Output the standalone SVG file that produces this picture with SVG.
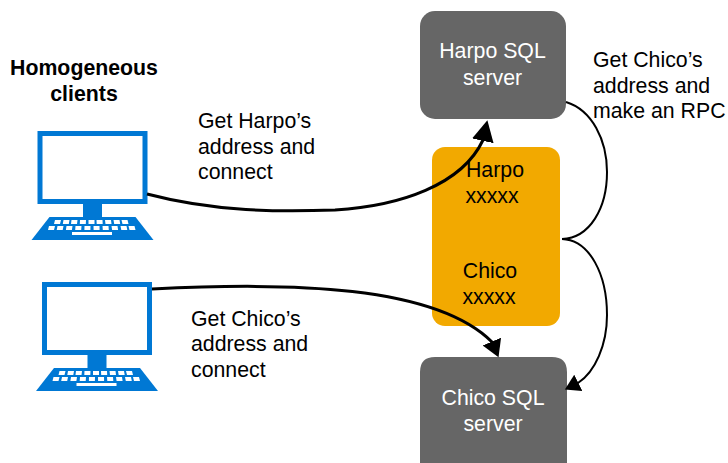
<svg xmlns="http://www.w3.org/2000/svg" xmlns:xlink="http://www.w3.org/1999/xlink" width="728" height="463" viewBox="0 0 728 463">
<style>
text{font-family:"Liberation Sans",Arial,sans-serif;font-size:21.3px;fill:#000}
.c{text-anchor:middle}
.w{fill:#fff}
.b{font-weight:bold}
.srv{fill:#666}
.blue{fill:#0078d4}
.key{fill:#fff}
.con{fill:none;stroke:#000}
.thick{stroke-width:3}
.thin{stroke-width:2}
</style>
<defs>
<marker id="a1" markerUnits="userSpaceOnUse" markerWidth="24" markerHeight="24" refX="10" refY="11" orient="auto"><path d="M0 0L21 11L0 22Z"/></marker>
<marker id="a3" markerUnits="userSpaceOnUse" markerWidth="22" markerHeight="22" refX="8" refY="10" orient="auto"><path d="M0 0L17 10L0 20Z"/></marker>
<marker id="a2" markerUnits="userSpaceOnUse" markerWidth="20" markerHeight="20" refX="7" refY="9" orient="auto"><path d="M0 0L15 9L0 18Z"/></marker>
<g id="pc">
<path class="blue" fill-rule="evenodd" d="M0 0H110V73H0ZM5 5V68H105V5Z"/>
<rect class="blue" x="45.500" y="73" width="19" height="14"/>
<path class="blue" d="M12 86H98L116 109H-6Z"/>
<path class="key" d="M17.500 89h6l-1 4h-6zM26 89h6l-.7 4h-6zM34 89h6l-.5 4h-6zM42.500 89h6l-.2 4h-6zM51 89h6v4h-6zM59 89h6l.2 4h-6zM67.500 89h6l.5 4h-6zM76 89h6l.7 4h-6zM84 89h6l1 4h-6z"/>
<path class="key" d="M11.500 95h6l-1 4h-6zM20 95h6l-.8 4h-6zM29 95h6l-.6 4h-6zM38 95h6l-.3 4h-6zM47 95h6l-.1 4h-6zM56 95h6l.1 4h-6zM65 95h6l.3 4h-6zM74 95h6l.6 4h-6zM83 95h6l.8 4h-6zM91 95h6l1 4h-6z"/>
<rect class="key" x="34.500" y="101" width="40" height="3"/>
</g>
</defs>
<text class="c b" x="84" y="75">Homogeneous</text>
<text class="c b" x="84" y="101">clients</text>
<g id="client1"><use xlink:href="#pc" href="#pc" x="37.500" y="131"/></g>
<g id="client2"><use xlink:href="#pc" href="#pc" x="42" y="282"/></g>
<g id="harpo-server"><rect class="srv" x="420" y="11" width="146" height="108" rx="15"/><text class="c w" x="492.500" y="58">Harpo SQL</text><text class="c w" x="492.500" y="85">server</text></g>
<g id="directory"><rect x="432" y="147" width="128" height="179" rx="13" fill="#f2a900"/><text class="c" x="495" y="177">Harpo</text><text class="c" x="492" y="203">xxxxx</text><text class="c" x="490" y="278">Chico</text><text class="c" x="489" y="304">xxxxx</text></g>
<g id="chico-server"><path class="srv" d="M435 357H552Q567 357 567 372V463H420V372Q420 357 435 357Z"/><text class="c w" x="493" y="405">Chico SQL</text><text class="c w" x="493" y="431">server</text></g>
<g id="connectors">
<path class="con thick" marker-end="url(#a1)" d="M147 194C215 212 280 212 335 210C400 206 462 185 483 140L485 131"/>
<path class="con thick" marker-end="url(#a3)" d="M152 289C290 282 435 285 492 342L495 349"/>
<path class="con thin" d="M566 102C592 110 607 140 607 172C607 208 590 238 562 239"/>
<path class="con thin" marker-end="url(#a2)" d="M562 239C590 240 607 275 607 315C607 345 595 372 578 383L572 386"/>
</g>
<g id="labels">
<text x="198" y="128">Get Harpo’s</text><text x="198" y="154">address and</text><text x="198" y="179">connect</text>
<text x="191" y="326">Get Chico’s</text><text x="191" y="351">address and</text><text x="191" y="377">connect</text>
<text x="593" y="67">Get Chico’s</text><text x="593" y="93">address and</text><text x="593" y="118">make an RPC</text>
</g>
</svg>
